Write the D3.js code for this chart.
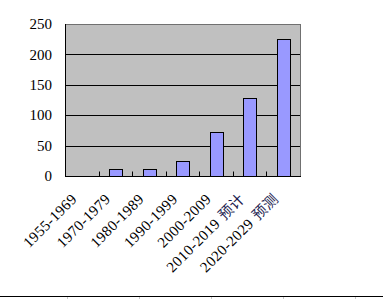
<!DOCTYPE html>
<html>
<head>
<meta charset="utf-8">
<script src="https://cdn.jsdelivr.net/npm/d3@7"></script>
<style>
  body { margin: 0; background: #fff; }
  svg { display: block; }
</style>
</head>
<body>
<svg id="chart"></svg>
<script>
// chart data
const categories = ["1955-1969", "1970-1979", "1980-1989", "1990-1999", "2000-2009", "2010-2019 预计", "2020-2029 预测"];
const values = [0, 11, 11, 25, 72, 128, 226];
const yTicks = [0, 50, 100, 150, 200, 250];

const width = 383;
const height = 299;
const margin = { left: 65, right: 83, top: 24, bottom: 123 };

let svg = d3.select("#chart")
    .attr("width", width)
    .attr("height", height);

let x = d3.scaleBand()
    .domain(categories)
    .range([margin.left, width - margin.right])
    .padding(0);

let y = d3.scaleLinear()
    .domain([0, 250])
    .range([height - margin.bottom, margin.top]);

// gray plot area
svg.append("rect")
    .attr("x", margin.left + 0.5)
    .attr("y", margin.top + 0.5)
    .attr("width", width - margin.left - margin.right)
    .attr("height", height - margin.top - margin.bottom)
    .style("fill", "#c0c0c0")
    .style("stroke", "#707070");

// horizontal grid lines
svg.append("g")
    .selectAll("line")
    .data(yTicks.slice(1, -1))
    .enter()
    .append("line")
    .attr("x1", margin.left)
    .attr("x2", width - margin.right)
    .attr("y1", (d) => Math.round(y(d)) + 0.5)
    .attr("y2", (d) => Math.round(y(d)) + 0.5)
    .style("stroke", "#000")
    .style("stroke-width", 1);

// bars
let barW = x.bandwidth() * 0.38;
svg.append("g")
    .selectAll("rect")
    .data(values)
    .enter()
    .append("rect")
    .attr("x", (d, i) => Math.round(x(categories[i]) + (x.bandwidth() - barW) / 2) + 0.5)
    .attr("y", (d) => Math.round(y(d)) + 0.5)
    .attr("width", Math.round(barW))
    .attr("height", (d) => Math.round(y(0)) - Math.round(y(d)))
    .style("fill", d => d > 0 ? "#9999ff" : "none")
    .style("stroke", d => d > 0 ? "#000" : "none")
    .style("stroke-width", 1);

// axes lines (left and bottom are black)
let x0 = margin.left + 0.5;
let yb = Math.round(y(0)) + 0.5;
svg.append("line")
    .attr("x1", x0).attr("x2", x0)
    .attr("y1", margin.top).attr("y2", yb)
    .style("stroke", "#000");
svg.append("line")
    .attr("x1", margin.left).attr("x2", width - margin.right + 1)
    .attr("y1", yb).attr("y2", yb)
    .style("stroke", "#000");

// small tick marks between categories
svg.append("g")
    .selectAll("line")
    .data(categories.slice(1))
    .enter()
    .append("line")
    .attr("x1", (d) => Math.round(x(d)) + 0.5)
    .attr("x2", (d) => Math.round(x(d)) + 0.5)
    .attr("y1", yb)
    .attr("y2", yb - 5)
    .style("stroke", "#000");

// y labels
svg.append("g")
    .selectAll("text")
    .data(yTicks)
    .enter()
    .append("text")
    .attr("x", 52)
    .attr("y", (d) => y(d))
    .attr("dy", "0.35em")
    .style("text-anchor", "end")
    .style("font-family", "'Liberation Serif', serif")
    .style("font-size", "15px")
    .text((d) => d);

// rotated category labels
let labels = svg.append("g")
    .selectAll("text")
    .data(categories)
    .enter()
    .append("text")
    .attr("transform", (d) => "translate(" + (x(d) + x.bandwidth() / 2 - 4) + "," + 200 + ") rotate(-45)")
    .style("text-anchor", "end")
    .style("font-family", "'Liberation Serif', serif")
    .style("font-size", "15px")
    .style("letter-spacing", "0.4px");

labels.each(function (d) {
    let parts = d.split(" ");
    let t = d3.select(this);
    t.append("tspan").text(parts[0]);
    if (parts.length > 1) {
        t.append("tspan")
            .attr("dx", 5)
            .style("fill", "#1c1c50")
            .style("font-family", "'Noto Sans CJK SC', sans-serif")
            .style("font-size", "14.5px")
            .text(parts[1]);
    }
});

// frame line along the bottom, with faint marks below it
svg.append("line")
    .attr("x1", 0).attr("x2", width)
    .attr("y1", 296.5).attr("y2", 296.5)
    .style("stroke", "#000");
svg.append("g")
    .selectAll("line")
    .data(d3.range(67, width, 72))
    .enter()
    .append("line")
    .attr("x1", (d) => d + 0.5).attr("x2", (d) => d + 0.5)
    .attr("y1", 297).attr("y2", 299)
    .style("stroke", "#c8c8c8");
</script>
</body>
</html>
